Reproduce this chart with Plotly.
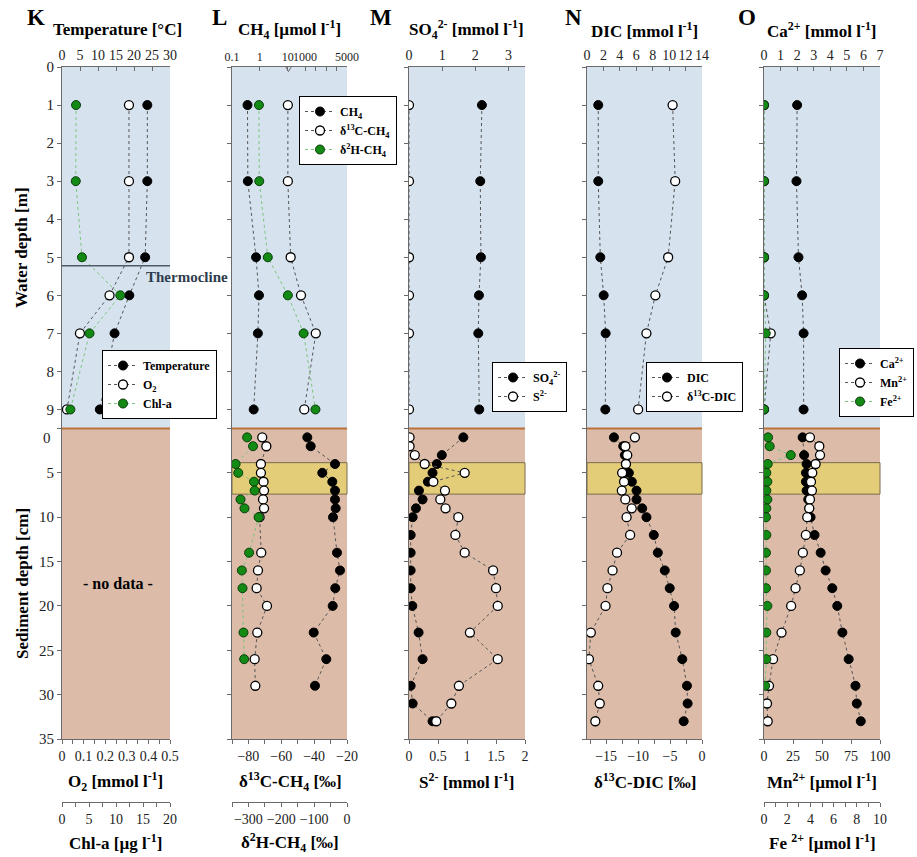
import plotly.graph_objects as go

W, H = 917, 857
def fx(px): return px / W
def fy(py): return 1 - py / H

FONT = "Liberation Serif"

# ---------------- data ----------------
water_depth = [1, 3, 5, 6, 7, 9]
temperature = [23.7, 23.7, 23.1, 18.7, 14.6, 10.5]
o2 = [0.31, 0.31, 0.31, 0.22, 0.083, 0.023]
chla = [2.6, 2.55, 3.7, 10.8, 5.1, 1.55]

ch4_water = [0.36, 0.37, 0.73, 0.93, 0.85, 0.6]
d13c_ch4_water = [-56, -56, -54.3, -48, -39, -46]
d2h_ch4_water = [-268, -267, -241, -180, -132, -96]

so4_water = [2.2, 2.15, 2.17, 2.11, 2.09, 2.12]
s2_water = [0, 0, 0, 0, 0, 0]
dic_water = [1.37, 1.37, 1.62, 2.03, 2.27, 2.23]
d13c_dic_water = [-4.6, -4.2, -5.3, -7.3, -8.7, -10.0]
ca_water = [2.0, 1.96, 2.08, 2.3, 2.39, 2.39]
mn_water = [0, 0, 0, 0, 5.8, 0]
fe_water = [0, 0, 0, 0, 0.15, 0]

sed_depth = [1, 2, 3, 4, 5, 6, 7, 8, 9, 10, 12, 14, 16, 18, 20, 23, 26, 29, 31, 33]
sed_depth_ch4 = [1, 2, 4, 5, 6, 7, 8, 9, 10, 14, 16, 18, 20, 23, 26, 29]
ch4_sed = [1219, 1543, 3857, 2648, 3600, 3857, 3857, 3924, 3667, 4048, 4333, 3886, 3638, 1829, 3029, 1952]
d13c_ch4_sed = [-71.6, -69.1, -72.4, -72.4, -70.8, -70.5, -71.1, -70.5, -73.2, -72.2, -74.2, -75.0, -68.7, -74.6, -76.2, -75.8]
sed_depth_d2h = [1, 2, 4, 5, 6, 7, 8, 9, 10, 14, 16, 18, 23, 26]
d2h_ch4_sed = [-304, -286, -339, -331, -283, -281, -324, -312, -269, -298, -320, -318, -315, -313]

sed_depth_so4 = [1, 3, 4, 5, 6, 7, 8, 9, 10, 12, 14, 16, 18, 20, 23, 26, 29, 31, 33]
so4_sed = [1.64, 0.99, 0.84, 0.71, 0.57, 0.30, 0.41, 0.21, 0.11, 0.05, 0.05, 0.05, 0.05, 0.10, 0.29, 0.41, 0.05, 0.11, 0.71]
s2_sed = [0.01, 0.01, 0.10, 0.27, 0.96, 0.42, 0.62, 0.54, 0.63, 0.85, 0.80, 0.96, 1.45, 1.50, 1.53, 1.05, 1.53, 0.86, 0.73, 0.47]

dic_sed = [3.28, 4.41, 4.61, 4.73, 5.1, 5.46, 6.03, 6.03, 6.72, 7.24, 8.13, 8.62, 9.47, 10.07, 10.6, 10.8, 11.6, 12.17, 12.25, 11.77]
d13c_dic_sed = [-10.5, -12.0, -11.7, -11.9, -12.5, -12.2, -12.55, -12.0, -11.0, -11.8, -11.25, -13.3, -14.0, -14.8, -15.1, -17.4, -17.7, -16.25, -16.0, -16.7]

sed_depth_ca = [1, 3, 4, 5, 6, 7, 8, 9, 10, 12, 14, 16, 18, 20, 23, 26, 29, 31, 33]
ca_sed = [2.33, 2.42, 2.57, 2.53, 2.53, 2.57, 2.67, 2.73, 2.81, 3.05, 3.42, 3.72, 4.12, 4.42, 4.73, 5.11, 5.52, 5.6, 5.84]
mn_sed = [39.6, 47.7, 48.3, 44.5, 41.6, 40.5, 41.3, 39.6, 39.0, 37.3, 36.1, 33.5, 30.9, 27.2, 23.4, 15.1, 7.8, 4.3, 2.6, 3.2]
sed_depth_fe = [1, 2, 3, 4, 5, 6, 7, 8, 9, 10, 12, 14, 16, 18, 20, 23, 26, 29]
fe_sed = [0.35, 0.49, 2.31, 0.32, 0.2, 0.29, 0.2, 0.29, 0.2, 0.17, 0.2, 0.17, 0.17, 0.17, 0.29, 0.2, 0.2, 0.1]

# ---------------- geometry ----------------
PANELS = {'K': (62, 170), 'L': (232, 347), 'M': (409, 525), 'N': (587, 702), 'O': (764, 880)}
Y_TOP, Y_MID, Y_BOT, Y_BOT2 = 67, 428.5, 739, 802
WATER_DOM = [fy(Y_MID), fy(Y_TOP)]
SED_DOM = [fy(Y_BOT), fy(Y_MID)]

LINE_C = '#6a6a6a'
GREEN = '#138a13'
TICK_SIZE = 14

def dom(p):
    a, b = PANELS[p]
    return [fx(a), fx(b)]

def base_axis(size=TICK_SIZE):
    return dict(showgrid=False, zeroline=False, showline=True, linecolor=LINE_C, linewidth=1,
                tickfont=dict(family=FONT, size=size, color='#222'), tickcolor=LINE_C,
                ticklen=4, tickwidth=1, fixedrange=True)

def minor(dt, tick0=0):
    return dict(dtick=dt, tick0=tick0, ticks='outside', ticklen=4, tickcolor=LINE_C, showgrid=False)

def top_x(p, anchor, rng, **kw):
    d = base_axis(); d.update(domain=dom(p), anchor=anchor, side='top', ticks='inside', range=rng); d.update(kw)
    return d

def bot_x(p, anchor, rng, **kw):
    d = base_axis(); d.update(domain=dom(p), anchor=anchor, side='bottom', ticks='outside', range=rng); d.update(kw)
    return d

def bot2_x(p, rng, **kw):
    d = base_axis(); d.update(domain=dom(p), anchor='free', position=fy(Y_BOT2), side='bottom',
                              ticks='outside', range=rng); d.update(kw)
    return d

def y_ax(anchor, water, labels):
    d = base_axis(15)
    d.update(anchor=anchor, side='left', ticks='outside', showticklabels=labels)
    if water:
        d.update(domain=WATER_DOM, range=[9.5, 0], tickmode='array', tickvals=list(range(0, 10)))
    else:
        d.update(domain=SED_DOM, range=[35, 0], tickmode='array', tickvals=list(range(0, 36, 5)),
                 ticktext=[''] + [str(v) for v in range(5, 36, 5)])
    return d

layout = dict(
    width=W, height=H, margin=dict(l=0, r=0, t=0, b=0, autoexpand=False),
    paper_bgcolor='white', plot_bgcolor='rgba(0,0,0,0)', showlegend=True,
)

# CH4 axis with break: log part 0.1..~11, second part 1000..5000
ch4b_lo = 1000 - (305 - 289) * 4000 / 42

layout.update(
    xaxis=top_x('K', 'y', [0, 30], dtick=5, tick0=0),
    xaxis2=bot_x('K', 'y2', [0, 0.5], dtick=0.1, tick0=0, minor=minor(0.05)),
    xaxis3=bot2_x('K', [0, 20], dtick=5, tick0=0, minor=minor(2.5)),
    xaxis4=dict(base_axis(12), domain=[fx(232), fx(289)], anchor='y3', side='top', ticks='inside',
                type='log', range=[-1, 1.046], tickmode='array', tickvals=[0.1, 1, 10],
                ticktext=['0.1', '1', '10']),
    xaxis5=dict(base_axis(12), domain=[fx(289), fx(347)], anchor='y3', side='top', ticks='inside',
                range=[ch4b_lo, 5000], tickmode='array', tickvals=[1000, 2000, 3000, 4000, 5000],
                ticktext=['1000', '', '', '', '5000']),
    xaxis6=bot_x('L', 'y4', [-90, -20], dtick=20, tick0=-20, minor=minor(10, -20)),
    xaxis7=bot2_x('L', [-350, 0], dtick=100, tick0=0, minor=minor(50)),
    xaxis8=top_x('M', 'y5', [0, 3.5], dtick=1, tick0=0),
    xaxis9=bot_x('M', 'y6', [0, 2], dtick=0.5, tick0=0),
    xaxis10=top_x('N', 'y7', [0, 14], dtick=2, tick0=0),
    xaxis11=bot_x('N', 'y8', [-18, 0], dtick=5, tick0=0, minor=minor(2.5)),
    xaxis12=top_x('O', 'y9', [0, 7], dtick=1, tick0=0),
    xaxis13=bot_x('O', 'y10', [0, 100], dtick=25, tick0=0),
    xaxis14=bot2_x('O', [0, 10], dtick=2, tick0=0, minor=minor(1)),
    yaxis=y_ax('x', True, True),
    yaxis2=y_ax('x2', False, True),
    yaxis3=y_ax('x4', True, False),
    yaxis4=y_ax('x6', False, False),
    yaxis5=y_ax('x8', True, False),
    yaxis6=y_ax('x9', False, False),
    yaxis7=y_ax('x10', True, False),
    yaxis8=y_ax('x11', False, False),
    yaxis9=y_ax('x12', True, False),
    yaxis10=y_ax('x13', False, False),
)

# ---------------- traces ----------------
def sc(x, y, xa, ya, kind, name=None, legend='legend'):
    if kind == 'black':
        marker = dict(color='black', size=9, line=dict(color='black', width=1))
        line = dict(color='#555555', width=1, dash='dot')
    elif kind == 'white':
        marker = dict(color='white', size=9, line=dict(color='black', width=1.3))
        line = dict(color='#555555', width=1, dash='dot')
    else:
        marker = dict(color=GREEN, size=9, line=dict(color='#0b3d0b', width=1))
        line = dict(color='#7cc47c', width=1, dash='dot')
    return go.Scatter(x=x, y=y, xaxis=xa, yaxis=ya, mode='lines+markers', marker=marker, line=line,
                      name=name, showlegend=name is not None, legend=legend, hoverinfo='skip')

def dummy(xa, ya):
    return go.Scatter(x=[None], y=[None], xaxis=xa, yaxis=ya, mode='markers', showlegend=False,
                      hoverinfo='skip')

traces = [
    dummy('x2', 'y2'), dummy('x5', 'y3'),
    # K
    sc(temperature, water_depth, 'x', 'y', 'black', '<b>Temperature</b>', 'legend'),
    sc(o2, water_depth, 'x2', 'y', 'white', '<b>O<sub>2</sub></b>', 'legend'),
    sc(chla, water_depth, 'x3', 'y', 'green', '<b>Chl-a</b>', 'legend'),
    # L
    sc(ch4_water, water_depth, 'x4', 'y3', 'black', '<b>CH<sub>4</sub></b>', 'legend2'),
    sc(d13c_ch4_water, water_depth, 'x6', 'y3', 'white', '<b>δ<sup>13</sup>C-CH<sub>4</sub></b>', 'legend2'),
    sc(d2h_ch4_water, water_depth, 'x7', 'y3', 'green', '<b>δ<sup>2</sup>H-CH<sub>4</sub></b>', 'legend2'),
    sc(d2h_ch4_sed, sed_depth_d2h, 'x7', 'y4', 'green'),
    sc(d13c_ch4_sed, sed_depth_ch4, 'x6', 'y4', 'white'),
    sc(ch4_sed, sed_depth_ch4, 'x5', 'y4', 'black'),
    # M
    sc(so4_water, water_depth, 'x8', 'y5', 'black', '<b>SO<sub>4</sub><sup>2-</sup></b>', 'legend3'),
    sc(s2_water, water_depth, 'x9', 'y5', 'white', '<b>S<sup>2-</sup></b>', 'legend3'),
    sc(so4_sed, sed_depth_so4, 'x8', 'y6', 'black'),
    sc(s2_sed, sed_depth, 'x9', 'y6', 'white'),
    # N
    sc(dic_water, water_depth, 'x10', 'y7', 'black', '<b>DIC</b>', 'legend4'),
    sc(d13c_dic_water, water_depth, 'x11', 'y7', 'white', '<b>δ<sup>13</sup>C-DIC</b>', 'legend4'),
    sc(d13c_dic_sed, sed_depth, 'x11', 'y8', 'white'),
    sc(dic_sed, sed_depth, 'x10', 'y8', 'black'),
    # O
    sc(ca_water, water_depth, 'x12', 'y9', 'black', '<b>Ca<sup>2+</sup></b>', 'legend5'),
    sc(mn_water, water_depth, 'x13', 'y9', 'white', '<b>Mn<sup>2+</sup></b>', 'legend5'),
    sc(fe_water, water_depth, 'x14', 'y9', 'green', '<b>Fe<sup>2+</sup></b>', 'legend5'),
    sc(fe_sed, sed_depth_fe, 'x14', 'y10', 'green'),
    sc(mn_sed, sed_depth, 'x13', 'y10', 'white'),
    sc(ca_sed, sed_depth_ca, 'x12', 'y10', 'black'),
]

# ---------------- shapes ----------------
WATER_C = '#d6e3ef'
SED_C = '#dcbba9'
BAND_C = '#e4cd78'
shapes = []
for p, (a, b) in PANELS.items():
    shapes.append(dict(type='rect', xref='paper', yref='paper', x0=fx(a), x1=fx(b), y0=fy(Y_MID), y1=fy(Y_TOP),
                       fillcolor=WATER_C, line=dict(width=0), layer='below'))
    shapes.append(dict(type='rect', xref='paper', yref='paper', x0=fx(a), x1=fx(b), y0=fy(Y_BOT), y1=fy(Y_MID),
                       fillcolor=SED_C, line=dict(width=0), layer='below'))
    shapes.append(dict(type='line', xref='paper', yref='paper', x0=fx(a), x1=fx(b), y0=fy(Y_MID), y1=fy(Y_MID),
                       line=dict(color='#bb7338', width=2), layer='below'))

sed_y = {'L': 'y4', 'M': 'y6', 'N': 'y8', 'O': 'y10'}
for p, ya in sed_y.items():
    a, b = PANELS[p]
    shapes.append(dict(type='rect', xref='paper', yref=ya, x0=fx(a), x1=fx(b), y0=3.85, y1=7.4,
                       fillcolor=BAND_C, line=dict(color='#7a6c50', width=1), layer='below'))

# thermocline
shapes.append(dict(type='line', xref='paper', yref='y', x0=fx(62), x1=fx(170), y0=5.22, y1=5.22,
                   line=dict(color='#4d5b6b', width=1.5)))
# axis break mark on CH4 axis
shapes.append(dict(type='path', xref='paper', yref='paper',
                   path=f'M {fx(285.5)},{fy(66.5)} L {fx(288.5)},{fy(71.5)} L {fx(291.5)},{fy(66.5)}',
                   line=dict(color=LINE_C, width=1)))

# ---------------- annotations ----------------
ann = []
def text(t, xp, yp, size=17, bold=True, angle=0, xanchor='center', color='black'):
    ann.append(dict(text=(f'<b>{t}</b>' if bold else t), x=fx(xp), y=fy(yp), xref='paper', yref='paper',
                    showarrow=False, xanchor=xanchor, yanchor='middle', textangle=angle,
                    font=dict(family=FONT, size=size, color=color)))

for letter, xp in [('K', 36), ('L', 219), ('M', 381), ('N', 573), ('O', 747)]:
    text(letter, xp, 17, size=23)

text('Temperature [°C]', 117, 30)
text('CH<sub>4</sub> [µmol l<sup>-1</sup>]', 289, 30)
text('SO<sub>4</sub><sup>2-</sup> [mmol l<sup>-1</sup>]', 466, 30)
text('DIC [mmol l<sup>-1</sup>]', 644, 30)
text('Ca<sup>2+</sup> [mmol l<sup>-1</sup>]', 822, 30)

text('O<sub>2</sub> [mmol l<sup>-1</sup>]', 115, 781)
text('Chl-a [µg l<sup>-1</sup>]', 115, 842)
text('δ<sup>13</sup>C-CH<sub>4</sub> [‰]', 290, 781)
text('δ<sup>2</sup>H-CH<sub>4</sub> [‰]', 290, 842)
text('S<sup>2-</sup> [mmol l<sup>-1</sup>]', 466, 781)
text('δ<sup>13</sup>C-DIC [‰]', 645, 781)
text('Mn<sup>2+</sup> [µmol l<sup>-1</sup>]', 822, 781)
text('Fe <sup>2+</sup> [µmol l<sup>-1</sup>]', 822, 842)

text('Water depth [m]', 22, 248, size=17, angle=-90)
text('Sediment depth [cm]', 22, 584, size=17, angle=-90)
text('- no data -', 118, 583, size=16)
text('Thermocline', 187, 277, size=15, color='#2e3d4d')
text('0', 53, 438, size=15, bold=False, xanchor='right', color='#222')

# ---------------- legends ----------------
def leg(xp, yp):
    return dict(x=fx(xp), y=fy(yp), xanchor='left', yanchor='top', bgcolor='white',
                bordercolor='black', borderwidth=1, tracegroupgap=0, itemwidth=30,
                font=dict(family=FONT, size=12, color='black'), traceorder='normal')

layout.update(
    legend=leg(102, 350),
    legend2=leg(299, 96),
    legend3=leg(492, 362),
    legend4=leg(646, 362),
    legend5=leg(839, 348),
    shapes=shapes, annotations=ann,
)

fig = go.Figure(data=traces, layout=layout)
fig.write_html("out.html")
